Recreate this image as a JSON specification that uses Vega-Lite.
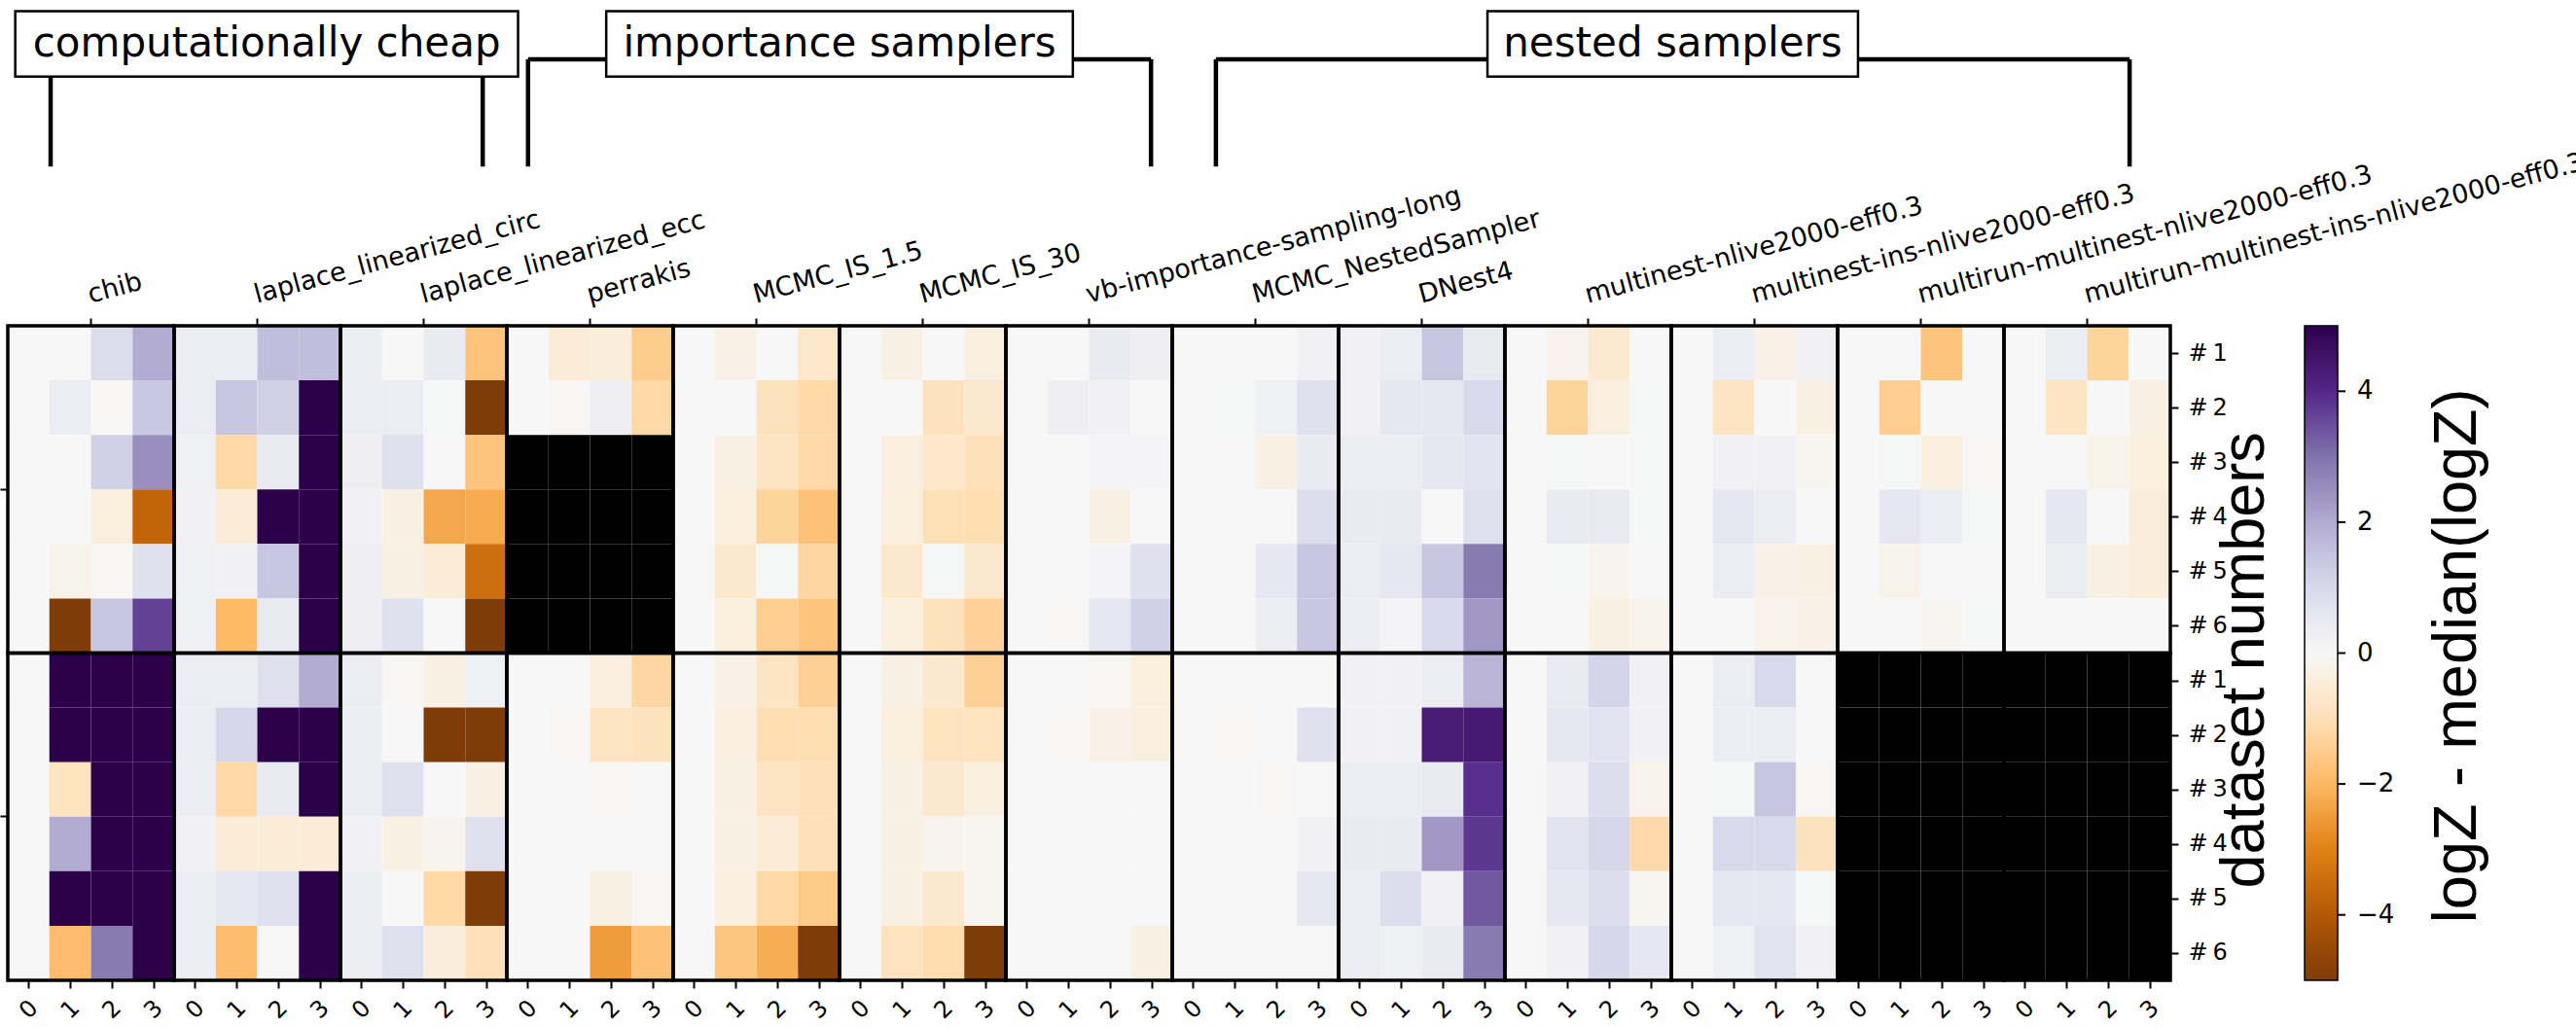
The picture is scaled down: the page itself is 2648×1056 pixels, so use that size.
{
  "$schema": "https://vega.github.io/schema/vega-lite/v6.json",
  "width": 2223,
  "height": 673,
  "autosize": {"type": "none"},
  "padding": {"left": 8, "top": 335, "right": 417, "bottom": 48},
  "background": "white",
  "config": {
    "view": {"stroke": null},
    "axis": {"labelColor": "black", "tickColor": "black", "titleColor": "black", "grid": false, "labelFont": "DejaVu Sans"}
  },
  "datasets": {
    "logz": [
      {"m": "chib", "s": "A", "r": 1, "c0": 0, "c1": 0, "c2": 0.9, "c3": 2.0},
      {"m": "chib", "s": "A", "r": 2, "c0": 0, "c1": 0.35, "c2": -0.05, "c3": 1.4},
      {"m": "chib", "s": "A", "r": 3, "c0": 0, "c1": 0, "c2": 1.2, "c3": 2.5},
      {"m": "chib", "s": "A", "r": 4, "c0": 0, "c1": 0, "c2": -0.4, "c3": -3.7},
      {"m": "chib", "s": "A", "r": 5, "c0": 0, "c1": -0.2, "c2": -0.05, "c3": 0.75},
      {"m": "chib", "s": "A", "r": 6, "c0": 0, "c1": -5, "c2": 1.45, "c3": 3.65},
      {"m": "laplace_linearized_circ", "s": "A", "r": 1, "c0": 0.35, "c1": 0.35, "c2": 1.6, "c3": 1.6},
      {"m": "laplace_linearized_circ", "s": "A", "r": 2, "c0": 0.35, "c1": 1.45, "c2": 1.2, "c3": 5},
      {"m": "laplace_linearized_circ", "s": "A", "r": 3, "c0": 0.25, "c1": -1.2, "c2": 0.5, "c3": 5},
      {"m": "laplace_linearized_circ", "s": "A", "r": 4, "c0": 0.2, "c1": -0.5, "c2": 5, "c3": 5},
      {"m": "laplace_linearized_circ", "s": "A", "r": 5, "c0": 0.25, "c1": 0.2, "c2": 1.45, "c3": 5},
      {"m": "laplace_linearized_circ", "s": "A", "r": 6, "c0": 0.25, "c1": -1.95, "c2": 0.5, "c3": 5},
      {"m": "laplace_linearized_ecc", "s": "A", "r": 1, "c0": 0.35, "c1": 0, "c2": 0.45, "c3": -1.7},
      {"m": "laplace_linearized_ecc", "s": "A", "r": 2, "c0": 0.35, "c1": 0.35, "c2": 0.05, "c3": -5},
      {"m": "laplace_linearized_ecc", "s": "A", "r": 3, "c0": 0.3, "c1": 0.8, "c2": 0, "c3": -1.7},
      {"m": "laplace_linearized_ecc", "s": "A", "r": 4, "c0": 0.2, "c1": -0.3, "c2": -2.3, "c3": -2.25},
      {"m": "laplace_linearized_ecc", "s": "A", "r": 5, "c0": 0.3, "c1": -0.3, "c2": -0.5, "c3": -3.45},
      {"m": "laplace_linearized_ecc", "s": "A", "r": 6, "c0": 0.3, "c1": 0.75, "c2": 0, "c3": -5},
      {"m": "perrakis", "s": "A", "r": 1, "c0": 0, "c1": -0.5, "c2": -0.45, "c3": -1.5},
      {"m": "perrakis", "s": "A", "r": 2, "c0": 0, "c1": -0.05, "c2": 0.3, "c3": -1.2},
      {"m": "perrakis", "s": "A", "r": 3, "c0": null, "c1": null, "c2": null, "c3": null},
      {"m": "perrakis", "s": "A", "r": 4, "c0": null, "c1": null, "c2": null, "c3": null},
      {"m": "perrakis", "s": "A", "r": 5, "c0": null, "c1": null, "c2": null, "c3": null},
      {"m": "perrakis", "s": "A", "r": 6, "c0": null, "c1": null, "c2": null, "c3": null},
      {"m": "MCMC_IS_1.5", "s": "A", "r": 1, "c0": 0, "c1": -0.25, "c2": 0, "c3": -0.7},
      {"m": "MCMC_IS_1.5", "s": "A", "r": 2, "c0": 0, "c1": 0, "c2": -0.9, "c3": -1.2},
      {"m": "MCMC_IS_1.5", "s": "A", "r": 3, "c0": 0, "c1": -0.3, "c2": -0.8, "c3": -1.2},
      {"m": "MCMC_IS_1.5", "s": "A", "r": 4, "c0": 0, "c1": -0.4, "c2": -1.3, "c3": -1.75},
      {"m": "MCMC_IS_1.5", "s": "A", "r": 5, "c0": 0, "c1": -0.65, "c2": 0.05, "c3": -1.25},
      {"m": "MCMC_IS_1.5", "s": "A", "r": 6, "c0": 0, "c1": -0.4, "c2": -1.45, "c3": -1.7},
      {"m": "MCMC_IS_30", "s": "A", "r": 1, "c0": 0, "c1": -0.3, "c2": 0, "c3": -0.35},
      {"m": "MCMC_IS_30", "s": "A", "r": 2, "c0": 0, "c1": 0, "c2": -0.9, "c3": -0.65},
      {"m": "MCMC_IS_30", "s": "A", "r": 3, "c0": 0, "c1": -0.35, "c2": -0.7, "c3": -0.95},
      {"m": "MCMC_IS_30", "s": "A", "r": 4, "c0": 0, "c1": -0.4, "c2": -1.0, "c3": -1.05},
      {"m": "MCMC_IS_30", "s": "A", "r": 5, "c0": 0, "c1": -0.65, "c2": 0.05, "c3": -0.65},
      {"m": "MCMC_IS_30", "s": "A", "r": 6, "c0": 0, "c1": -0.4, "c2": -0.9, "c3": -1.35},
      {"m": "vb-importance-sampling-long", "s": "A", "r": 1, "c0": 0, "c1": 0, "c2": 0.45, "c3": 0.3},
      {"m": "vb-importance-sampling-long", "s": "A", "r": 2, "c0": 0, "c1": 0.3, "c2": 0.2, "c3": 0},
      {"m": "vb-importance-sampling-long", "s": "A", "r": 3, "c0": 0, "c1": 0, "c2": 0.1, "c3": 0.1},
      {"m": "vb-importance-sampling-long", "s": "A", "r": 4, "c0": 0, "c1": 0, "c2": -0.3, "c3": 0},
      {"m": "vb-importance-sampling-long", "s": "A", "r": 5, "c0": 0, "c1": 0, "c2": 0.1, "c3": 0.75},
      {"m": "vb-importance-sampling-long", "s": "A", "r": 6, "c0": 0, "c1": -0.05, "c2": 0.6, "c3": 1.2},
      {"m": "MCMC_NestedSampler", "s": "A", "r": 1, "c0": 0, "c1": 0, "c2": 0, "c3": 0.2},
      {"m": "MCMC_NestedSampler", "s": "A", "r": 2, "c0": 0, "c1": 0.05, "c2": 0.25, "c3": 0.8},
      {"m": "MCMC_NestedSampler", "s": "A", "r": 3, "c0": 0, "c1": 0, "c2": -0.3, "c3": 0.45},
      {"m": "MCMC_NestedSampler", "s": "A", "r": 4, "c0": 0, "c1": 0, "c2": 0, "c3": 0.85},
      {"m": "MCMC_NestedSampler", "s": "A", "r": 5, "c0": 0, "c1": 0, "c2": 0.55, "c3": 1.45},
      {"m": "MCMC_NestedSampler", "s": "A", "r": 6, "c0": 0, "c1": 0, "c2": 0.35, "c3": 1.45},
      {"m": "DNest4", "s": "A", "r": 1, "c0": 0.2, "c1": 0.35, "c2": 1.45, "c3": 0.5},
      {"m": "DNest4", "s": "A", "r": 2, "c0": 0.2, "c1": 0.55, "c2": 0.55, "c3": 1.0},
      {"m": "DNest4", "s": "A", "r": 3, "c0": 0.35, "c1": 0.35, "c2": 0.55, "c3": 0.7},
      {"m": "DNest4", "s": "A", "r": 4, "c0": 0.45, "c1": 0.45, "c2": 0, "c3": 0.8},
      {"m": "DNest4", "s": "A", "r": 5, "c0": 0.35, "c1": 0.55, "c2": 1.45, "c3": 2.85},
      {"m": "DNest4", "s": "A", "r": 6, "c0": 0.35, "c1": 0.1, "c2": 1.0, "c3": 2.35},
      {"m": "multinest-nlive2000-eff0.3", "s": "A", "r": 1, "c0": 0, "c1": -0.15, "c2": -0.6, "c3": 0},
      {"m": "multinest-nlive2000-eff0.3", "s": "A", "r": 2, "c0": 0, "c1": -1.3, "c2": -0.35, "c3": 0.05},
      {"m": "multinest-nlive2000-eff0.3", "s": "A", "r": 3, "c0": 0, "c1": 0.05, "c2": 0, "c3": 0.05},
      {"m": "multinest-nlive2000-eff0.3", "s": "A", "r": 4, "c0": 0, "c1": 0.5, "c2": 0.5, "c3": 0.05},
      {"m": "multinest-nlive2000-eff0.3", "s": "A", "r": 5, "c0": 0, "c1": 0.05, "c2": -0.15, "c3": 0},
      {"m": "multinest-nlive2000-eff0.3", "s": "A", "r": 6, "c0": 0, "c1": 0, "c2": -0.3, "c3": -0.2},
      {"m": "multinest-ins-nlive2000-eff0.3", "s": "A", "r": 1, "c0": 0, "c1": 0.35, "c2": -0.25, "c3": 0.2},
      {"m": "multinest-ins-nlive2000-eff0.3", "s": "A", "r": 2, "c0": 0, "c1": -0.8, "c2": 0, "c3": -0.3},
      {"m": "multinest-ins-nlive2000-eff0.3", "s": "A", "r": 3, "c0": 0, "c1": 0.2, "c2": 0.2, "c3": -0.1},
      {"m": "multinest-ins-nlive2000-eff0.3", "s": "A", "r": 4, "c0": 0, "c1": 0.6, "c2": 0.35, "c3": 0},
      {"m": "multinest-ins-nlive2000-eff0.3", "s": "A", "r": 5, "c0": 0, "c1": 0.35, "c2": -0.25, "c3": -0.3},
      {"m": "multinest-ins-nlive2000-eff0.3", "s": "A", "r": 6, "c0": 0, "c1": 0, "c2": -0.2, "c3": -0.25},
      {"m": "multirun-multinest-nlive2000-eff0.3", "s": "A", "r": 1, "c0": 0, "c1": 0, "c2": -1.7, "c3": 0},
      {"m": "multirun-multinest-nlive2000-eff0.3", "s": "A", "r": 2, "c0": 0, "c1": -1.45, "c2": 0, "c3": 0},
      {"m": "multirun-multinest-nlive2000-eff0.3", "s": "A", "r": 3, "c0": 0, "c1": 0.05, "c2": -0.35, "c3": -0.05},
      {"m": "multirun-multinest-nlive2000-eff0.3", "s": "A", "r": 4, "c0": 0, "c1": 0.55, "c2": 0.35, "c3": 0.05},
      {"m": "multirun-multinest-nlive2000-eff0.3", "s": "A", "r": 5, "c0": 0, "c1": -0.2, "c2": 0, "c3": 0},
      {"m": "multirun-multinest-nlive2000-eff0.3", "s": "A", "r": 6, "c0": 0, "c1": 0, "c2": -0.1, "c3": 0.05},
      {"m": "multirun-multinest-ins-nlive2000-eff0.3", "s": "A", "r": 1, "c0": 0, "c1": 0.35, "c2": -1.3, "c3": 0},
      {"m": "multirun-multinest-ins-nlive2000-eff0.3", "s": "A", "r": 2, "c0": 0, "c1": -0.8, "c2": 0, "c3": -0.3},
      {"m": "multirun-multinest-ins-nlive2000-eff0.3", "s": "A", "r": 3, "c0": 0, "c1": 0, "c2": -0.2, "c3": -0.4},
      {"m": "multirun-multinest-ins-nlive2000-eff0.3", "s": "A", "r": 4, "c0": 0, "c1": 0.55, "c2": 0, "c3": -0.45},
      {"m": "multirun-multinest-ins-nlive2000-eff0.3", "s": "A", "r": 5, "c0": 0, "c1": 0.35, "c2": -0.3, "c3": -0.45},
      {"m": "multirun-multinest-ins-nlive2000-eff0.3", "s": "A", "r": 6, "c0": 0, "c1": 0, "c2": 0, "c3": 0},
      {"m": "chib", "s": "B", "r": 1, "c0": 0, "c1": 5, "c2": 5, "c3": 5},
      {"m": "chib", "s": "B", "r": 2, "c0": 0, "c1": 5, "c2": 5, "c3": 5},
      {"m": "chib", "s": "B", "r": 3, "c0": 0, "c1": -0.85, "c2": 5, "c3": 5},
      {"m": "chib", "s": "B", "r": 4, "c0": 0, "c1": 2.0, "c2": 5, "c3": 5},
      {"m": "chib", "s": "B", "r": 5, "c0": 0, "c1": 5, "c2": 5, "c3": 5},
      {"m": "chib", "s": "B", "r": 6, "c0": 0, "c1": -1.9, "c2": 2.85, "c3": 5},
      {"m": "laplace_linearized_circ", "s": "B", "r": 1, "c0": 0.35, "c1": 0.35, "c2": 0.8, "c3": 2.0},
      {"m": "laplace_linearized_circ", "s": "B", "r": 2, "c0": 0.35, "c1": 1.05, "c2": 5, "c3": 5},
      {"m": "laplace_linearized_circ", "s": "B", "r": 3, "c0": 0.35, "c1": -1.2, "c2": 0.5, "c3": 5},
      {"m": "laplace_linearized_circ", "s": "B", "r": 4, "c0": 0.2, "c1": -0.5, "c2": -0.5, "c3": -0.5},
      {"m": "laplace_linearized_circ", "s": "B", "r": 5, "c0": 0.35, "c1": 0.6, "c2": 0.75, "c3": 5},
      {"m": "laplace_linearized_circ", "s": "B", "r": 6, "c0": 0.35, "c1": -1.9, "c2": 0, "c3": 5},
      {"m": "laplace_linearized_ecc", "s": "B", "r": 1, "c0": 0.35, "c1": -0.05, "c2": -0.3, "c3": 0.25},
      {"m": "laplace_linearized_ecc", "s": "B", "r": 2, "c0": 0.35, "c1": 0, "c2": -5, "c3": -5},
      {"m": "laplace_linearized_ecc", "s": "B", "r": 3, "c0": 0.35, "c1": 0.8, "c2": 0, "c3": -0.3},
      {"m": "laplace_linearized_ecc", "s": "B", "r": 4, "c0": 0.2, "c1": -0.3, "c2": -0.15, "c3": 0.8},
      {"m": "laplace_linearized_ecc", "s": "B", "r": 5, "c0": 0.35, "c1": 0, "c2": -1.2, "c3": -5},
      {"m": "laplace_linearized_ecc", "s": "B", "r": 6, "c0": 0.35, "c1": 0.8, "c2": -0.45, "c3": -0.95},
      {"m": "perrakis", "s": "B", "r": 1, "c0": 0, "c1": 0, "c2": -0.35, "c3": -1.25},
      {"m": "perrakis", "s": "B", "r": 2, "c0": 0, "c1": -0.05, "c2": -0.8, "c3": -0.9},
      {"m": "perrakis", "s": "B", "r": 3, "c0": 0, "c1": 0, "c2": -0.05, "c3": 0},
      {"m": "perrakis", "s": "B", "r": 4, "c0": 0, "c1": 0, "c2": 0, "c3": 0},
      {"m": "perrakis", "s": "B", "r": 5, "c0": 0, "c1": 0, "c2": -0.3, "c3": -0.05},
      {"m": "perrakis", "s": "B", "r": 6, "c0": 0, "c1": 0, "c2": -2.5, "c3": -1.75},
      {"m": "MCMC_IS_1.5", "s": "B", "r": 1, "c0": 0, "c1": -0.25, "c2": -0.8, "c3": -1.4},
      {"m": "MCMC_IS_1.5", "s": "B", "r": 2, "c0": 0, "c1": -0.35, "c2": -1.05, "c3": -1.05},
      {"m": "MCMC_IS_1.5", "s": "B", "r": 3, "c0": 0, "c1": -0.3, "c2": -0.8, "c3": -0.95},
      {"m": "MCMC_IS_1.5", "s": "B", "r": 4, "c0": 0, "c1": -0.3, "c2": -0.5, "c3": -0.95},
      {"m": "MCMC_IS_1.5", "s": "B", "r": 5, "c0": 0, "c1": -0.35, "c2": -1.2, "c3": -1.55},
      {"m": "MCMC_IS_1.5", "s": "B", "r": 6, "c0": 0, "c1": -1.65, "c2": -2.2, "c3": -5},
      {"m": "MCMC_IS_30", "s": "B", "r": 1, "c0": 0, "c1": -0.3, "c2": -0.65, "c3": -1.4},
      {"m": "MCMC_IS_30", "s": "B", "r": 2, "c0": 0, "c1": -0.4, "c2": -0.85, "c3": -0.85},
      {"m": "MCMC_IS_30", "s": "B", "r": 3, "c0": 0, "c1": -0.3, "c2": -0.65, "c3": -0.35},
      {"m": "MCMC_IS_30", "s": "B", "r": 4, "c0": 0, "c1": -0.3, "c2": -0.15, "c3": -0.1},
      {"m": "MCMC_IS_30", "s": "B", "r": 5, "c0": 0, "c1": -0.3, "c2": -0.65, "c3": -0.1},
      {"m": "MCMC_IS_30", "s": "B", "r": 6, "c0": 0, "c1": -0.85, "c2": -1.1, "c3": -5},
      {"m": "vb-importance-sampling-long", "s": "B", "r": 1, "c0": 0, "c1": 0, "c2": -0.05, "c3": -0.4},
      {"m": "vb-importance-sampling-long", "s": "B", "r": 2, "c0": 0, "c1": -0.05, "c2": -0.25, "c3": -0.35},
      {"m": "vb-importance-sampling-long", "s": "B", "r": 3, "c0": 0, "c1": 0, "c2": 0, "c3": 0},
      {"m": "vb-importance-sampling-long", "s": "B", "r": 4, "c0": 0, "c1": 0, "c2": 0, "c3": 0},
      {"m": "vb-importance-sampling-long", "s": "B", "r": 5, "c0": 0, "c1": 0, "c2": 0, "c3": 0},
      {"m": "vb-importance-sampling-long", "s": "B", "r": 6, "c0": 0, "c1": 0, "c2": 0, "c3": -0.3},
      {"m": "MCMC_NestedSampler", "s": "B", "r": 1, "c0": 0, "c1": 0, "c2": 0, "c3": 0},
      {"m": "MCMC_NestedSampler", "s": "B", "r": 2, "c0": 0, "c1": -0.05, "c2": 0, "c3": 0.75},
      {"m": "MCMC_NestedSampler", "s": "B", "r": 3, "c0": 0, "c1": 0, "c2": -0.05, "c3": 0},
      {"m": "MCMC_NestedSampler", "s": "B", "r": 4, "c0": 0, "c1": 0, "c2": 0, "c3": 0.2},
      {"m": "MCMC_NestedSampler", "s": "B", "r": 5, "c0": 0, "c1": 0, "c2": 0, "c3": 0.6},
      {"m": "MCMC_NestedSampler", "s": "B", "r": 6, "c0": 0, "c1": 0, "c2": 0, "c3": 0},
      {"m": "DNest4", "s": "B", "r": 1, "c0": 0.2, "c1": 0.2, "c2": 0.35, "c3": 1.8},
      {"m": "DNest4", "s": "B", "r": 2, "c0": 0.2, "c1": 0.2, "c2": 4.3, "c3": 4.35},
      {"m": "DNest4", "s": "B", "r": 3, "c0": 0.35, "c1": 0.35, "c2": 0.5, "c3": 3.9},
      {"m": "DNest4", "s": "B", "r": 4, "c0": 0.45, "c1": 0.45, "c2": 2.35, "c3": 3.8},
      {"m": "DNest4", "s": "B", "r": 5, "c0": 0.35, "c1": 0.85, "c2": 0.2, "c3": 3.35},
      {"m": "DNest4", "s": "B", "r": 6, "c0": 0.35, "c1": 0.25, "c2": 0.45, "c3": 2.85},
      {"m": "multinest-nlive2000-eff0.3", "s": "B", "r": 1, "c0": 0, "c1": 0.5, "c2": 1.1, "c3": 0.2},
      {"m": "multinest-nlive2000-eff0.3", "s": "B", "r": 2, "c0": 0, "c1": 0.55, "c2": 0.7, "c3": 0.2},
      {"m": "multinest-nlive2000-eff0.3", "s": "B", "r": 3, "c0": 0, "c1": 0.2, "c2": 0.85, "c3": -0.2},
      {"m": "multinest-nlive2000-eff0.3", "s": "B", "r": 4, "c0": 0, "c1": 0.7, "c2": 1.05, "c3": -1.15},
      {"m": "multinest-nlive2000-eff0.3", "s": "B", "r": 5, "c0": 0, "c1": 0.6, "c2": 0.85, "c3": -0.1},
      {"m": "multinest-nlive2000-eff0.3", "s": "B", "r": 6, "c0": 0, "c1": 0.2, "c2": 1.05, "c3": 0.55},
      {"m": "multinest-ins-nlive2000-eff0.3", "s": "B", "r": 1, "c0": 0, "c1": 0.35, "c2": 1.0, "c3": 0},
      {"m": "multinest-ins-nlive2000-eff0.3", "s": "B", "r": 2, "c0": 0, "c1": 0.35, "c2": 0.35, "c3": 0},
      {"m": "multinest-ins-nlive2000-eff0.3", "s": "B", "r": 3, "c0": 0, "c1": 0.05, "c2": 1.45, "c3": -0.05},
      {"m": "multinest-ins-nlive2000-eff0.3", "s": "B", "r": 4, "c0": 0, "c1": 1.0, "c2": 1.0, "c3": -0.9},
      {"m": "multinest-ins-nlive2000-eff0.3", "s": "B", "r": 5, "c0": 0, "c1": 0.55, "c2": 0.55, "c3": 0.05},
      {"m": "multinest-ins-nlive2000-eff0.3", "s": "B", "r": 6, "c0": 0, "c1": 0.25, "c2": 0.7, "c3": 0.2},
      {"m": "multirun-multinest-nlive2000-eff0.3", "s": "B", "r": 1, "c0": null, "c1": null, "c2": null, "c3": null},
      {"m": "multirun-multinest-nlive2000-eff0.3", "s": "B", "r": 2, "c0": null, "c1": null, "c2": null, "c3": null},
      {"m": "multirun-multinest-nlive2000-eff0.3", "s": "B", "r": 3, "c0": null, "c1": null, "c2": null, "c3": null},
      {"m": "multirun-multinest-nlive2000-eff0.3", "s": "B", "r": 4, "c0": null, "c1": null, "c2": null, "c3": null},
      {"m": "multirun-multinest-nlive2000-eff0.3", "s": "B", "r": 5, "c0": null, "c1": null, "c2": null, "c3": null},
      {"m": "multirun-multinest-nlive2000-eff0.3", "s": "B", "r": 6, "c0": null, "c1": null, "c2": null, "c3": null},
      {"m": "multirun-multinest-ins-nlive2000-eff0.3", "s": "B", "r": 1, "c0": null, "c1": null, "c2": null, "c3": null},
      {"m": "multirun-multinest-ins-nlive2000-eff0.3", "s": "B", "r": 2, "c0": null, "c1": null, "c2": null, "c3": null},
      {"m": "multirun-multinest-ins-nlive2000-eff0.3", "s": "B", "r": 3, "c0": null, "c1": null, "c2": null, "c3": null},
      {"m": "multirun-multinest-ins-nlive2000-eff0.3", "s": "B", "r": 4, "c0": null, "c1": null, "c2": null, "c3": null},
      {"m": "multirun-multinest-ins-nlive2000-eff0.3", "s": "B", "r": 5, "c0": null, "c1": null, "c2": null, "c3": null},
      {"m": "multirun-multinest-ins-nlive2000-eff0.3", "s": "B", "r": 6, "c0": null, "c1": null, "c2": null, "c3": null}
    ],
    "groups": [
      {"g": "computationally cheap", "from": 1.03, "to": 11.42, "bx0": 0.18, "bx1": 12.27},
      {"g": "importance samplers", "from": 12.51, "to": 27.49, "bx0": 14.39, "bx1": 25.61},
      {"g": "nested samplers", "from": 29.05, "to": 51.02, "bx0": 35.58, "bx1": 44.49}
    ],
    "colorbar_ticks": [{"v": -4}, {"v": -2}, {"v": 0}, {"v": 2}, {"v": 4}]
  },
  "layer": [
    {
      "data": {"name": "logz"},
      "transform": [{"fold": ["c0", "c1", "c2", "c3"], "as": ["k", "v"]}],
      "mark": {"type": "rect", "invalid": null},
      "encoding": {
        "x": {
          "field": "m", "type": "nominal", "title": null,
          "sort": ["chib", "laplace_linearized_circ", "laplace_linearized_ecc", "perrakis", "MCMC_IS_1.5", "MCMC_IS_30", "vb-importance-sampling-long", "MCMC_NestedSampler", "DNest4", "multinest-nlive2000-eff0.3", "multinest-ins-nlive2000-eff0.3", "multirun-multinest-nlive2000-eff0.3", "multirun-multinest-ins-nlive2000-eff0.3"],
          "scale": {"paddingInner": 0, "paddingOuter": 0},
          "axis": {"orient": "top", "labelAngle": -15, "labelAlign": "left", "labelBaseline": "bottom", "labelFontSize": 27, "labelPadding": 10, "labelOffset": 1, "labelLimit": 3000, "labelOverlap": false, "tickSize": 8, "tickWidth": 2, "domain": false}
        },
        "xOffset": {"field": "k", "type": "nominal", "sort": "ascending", "scale": {"paddingInner": 0, "paddingOuter": 0}},
        "y": {
          "field": "s", "type": "nominal", "title": null,
          "scale": {"paddingInner": 0, "paddingOuter": 0},
          "axis": {"orient": "left", "labels": false, "domain": false, "tickSize": 8, "tickWidth": 2}
        },
        "yOffset": {"field": "r", "type": "ordinal", "scale": {"paddingInner": 0, "paddingOuter": 0}},
        "color": {
          "condition": {"test": "!isValid(datum.v)", "value": "#000000"},
          "field": "v", "type": "quantitative",
          "scale": {
            "type": "linear", "clamp": true, "interpolate": "rgb",
            "domain": [-5, -4, -3, -2, -1, 0, 1, 2, 3, 4, 5],
            "range": ["#7f3b08", "#b35806", "#e08214", "#fdb863", "#fee0b6", "#f7f7f7", "#d8daeb", "#b2abd2", "#8073ac", "#542788", "#2d004b"]
          },
          "legend": {
            "orient": "none", "legendX": 2361, "legendY": 0, "direction": "vertical", "padding": 0,
            "gradientLength": 673, "gradientThickness": 34,
            "gradientStrokeColor": "black", "gradientStrokeWidth": 1.5,
            "values": [-4, -2, 0, 2, 4],
            "labelFont": "DejaVu Sans", "labelFontSize": 26, "labelColor": "black", "labelOffset": 20, "labelOverlap": false,
            "title": null
          }
        }
      }
    },
    {
      "data": {"name": "logz"},
      "transform": [{"aggregate": [{"op": "count", "as": "n"}], "groupby": ["m", "s"]}],
      "mark": {"type": "rect", "filled": false, "stroke": "black", "strokeWidth": 3.5},
      "encoding": {
        "x": {
          "field": "m", "type": "nominal", "title": null, "axis": null,
          "sort": ["chib", "laplace_linearized_circ", "laplace_linearized_ecc", "perrakis", "MCMC_IS_1.5", "MCMC_IS_30", "vb-importance-sampling-long", "MCMC_NestedSampler", "DNest4", "multinest-nlive2000-eff0.3", "multinest-ins-nlive2000-eff0.3", "multirun-multinest-nlive2000-eff0.3", "multirun-multinest-ins-nlive2000-eff0.3"],
          "scale": {"paddingInner": 0, "paddingOuter": 0}
        },
        "y": {"field": "s", "type": "nominal", "title": null, "axis": null, "scale": {"paddingInner": 0, "paddingOuter": 0}}
      }
    },
    {
      "data": {"name": "groups"},
      "mark": {"type": "rule", "color": "black", "strokeWidth": 4.5},
      "encoding": {
        "x": {
          "field": "from", "type": "quantitative",
          "scale": {"domain": [0, 52], "nice": false, "zero": false},
          "axis": {
            "orient": "bottom", "title": null, "domain": false, "grid": false,
            "values": [0.5, 1.5, 2.5, 3.5, 4.5, 5.5, 6.5, 7.5, 8.5, 9.5, 10.5, 11.5, 12.5, 13.5, 14.5, 15.5, 16.5, 17.5, 18.5, 19.5, 20.5, 21.5, 22.5, 23.5, 24.5, 25.5, 26.5, 27.5, 28.5, 29.5, 30.5, 31.5, 32.5, 33.5, 34.5, 35.5, 36.5, 37.5, 38.5, 39.5, 40.5, 41.5, 42.5, 43.5, 44.5, 45.5, 46.5, 47.5, 48.5, 49.5, 50.5, 51.5],
            "labelExpr": "'' + (floor(datum.value) % 4)",
            "labelAngle": -45, "labelAlign": "center", "labelBaseline": "middle",
            "labelFontSize": 24, "labelPadding": 22, "labelOverlap": false,
            "tickSize": 8, "tickWidth": 2
          }
        },
        "x2": {"field": "to"},
        "y": {
          "datum": 16.886, "type": "quantitative",
          "scale": {"domain": [0, 12], "nice": false, "zero": false},
          "axis": {
            "orient": "right", "domain": false, "grid": false, "title": null,
            "values": [0.5, 1.5, 2.5, 3.5, 4.5, 5.5, 6.5, 7.5, 8.5, 9.5, 10.5, 11.5],
            "labelExpr": "'#\u2009' + (6 - floor(datum.value) % 6)",
            "labelFontSize": 24, "labelPadding": 10, "labelOverlap": false,
            "tickSize": 8, "tickWidth": 2
          }
        }
      }
    },
    {
      "data": {"name": "groups"},
      "transform": [{"fold": ["from", "to"], "as": ["end", "x"]}],
      "mark": {"type": "rule", "color": "black", "strokeWidth": 4.5},
      "encoding": {
        "x": {"field": "x", "type": "quantitative", "axis": null, "scale": {"domain": [0, 52], "nice": false, "zero": false}},
        "y": {"datum": 16.886, "type": "quantitative", "axis": null, "scale": {"domain": [0, 12], "nice": false, "zero": false}},
        "y2": {"datum": 14.92}
      }
    },
    {
      "data": {"name": "groups"},
      "mark": {"type": "rect", "fill": "white", "stroke": "black", "strokeWidth": 2.5},
      "encoding": {
        "x": {"field": "bx0", "type": "quantitative", "axis": null, "scale": {"domain": [0, 52], "nice": false, "zero": false}},
        "x2": {"field": "bx1"},
        "y": {"datum": 17.77, "type": "quantitative", "axis": null, "scale": {"domain": [0, 12], "nice": false, "zero": false}},
        "y2": {"datum": 16.57}
      }
    },
    {
      "data": {"name": "groups"},
      "transform": [
        {"fold": ["from", "to"], "as": ["end", "x"]},
        {"aggregate": [{"op": "mean", "field": "x", "as": "mid"}], "groupby": ["g"]}
      ],
      "mark": {"type": "text", "font": "DejaVu Sans", "fontSize": 42, "align": "center", "baseline": "middle", "color": "black"},
      "encoding": {
        "x": {"field": "mid", "type": "quantitative", "axis": null, "scale": {"domain": [0, 52], "nice": false, "zero": false}},
        "y": {"datum": 17.17, "type": "quantitative", "axis": null, "scale": {"domain": [0, 12], "nice": false, "zero": false}},
        "text": {"field": "g"}
      }
    },
    {
      "data": {"name": "colorbar_ticks"},
      "mark": {"type": "rule", "color": "black", "strokeWidth": 2},
      "encoding": {
        "x": {"datum": 56.02, "type": "quantitative", "axis": null, "scale": {"domain": [0, 52], "nice": false, "zero": false}},
        "x2": {"datum": 56.21},
        "y": {"field": "v", "type": "quantitative", "axis": null, "scale": {"domain": [-5, 5], "nice": false, "zero": false}}
      }
    },
    {
      "data": {"values": [{}]},
      "mark": {"type": "text", "font": "Liberation Sans", "fontSize": 63, "angle": 270, "align": "center", "baseline": "middle", "color": "black"},
      "encoding": {
        "x": {"datum": 53.8, "type": "quantitative", "axis": null, "scale": {"domain": [0, 52], "nice": false, "zero": false}},
        "y": {"datum": 5.87, "type": "quantitative", "axis": null, "scale": {"domain": [0, 12], "nice": false, "zero": false}},
        "text": {"value": "dataset numbers"}
      }
    },
    {
      "data": {"values": [{}]},
      "mark": {"type": "text", "font": "Liberation Sans", "fontSize": 63, "angle": 270, "align": "center", "baseline": "middle", "color": "black"},
      "encoding": {
        "x": {"datum": 58.9, "type": "quantitative", "axis": null, "scale": {"domain": [0, 52], "nice": false, "zero": false}},
        "y": {"datum": 5.95, "type": "quantitative", "axis": null, "scale": {"domain": [0, 12], "nice": false, "zero": false}},
        "text": {"value": "logZ - median(logZ)"}
      }
    }
  ],
  "resolve": {
    "scale": {"x": "independent", "y": "independent"},
    "axis": {"x": "independent", "y": "independent"}
  }
}
